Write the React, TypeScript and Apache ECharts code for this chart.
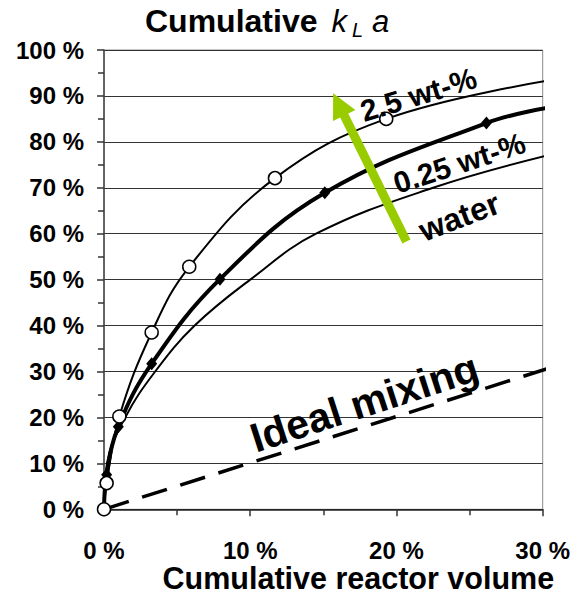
import { useEffect, useRef } from "react";
import * as echarts from "echarts";

const FONT = '"Liberation Sans", Arial, Helvetica, sans-serif';

// Cumulative reactor volume (%) against cumulative kLa (%)
const volume25wt = [0, 0.18, 1.05, 3.26, 5.83, 11.69, 19.3, 30.5];
const kla25wt = [0, 5.7, 20.2, 38.5, 52.8, 72.1, 85.0, 93.4];
const marker25wt = [true, true, true, true, true, true, true, false];

const volume025wt = [0, 0.18, 0.98, 3.26, 7.93, 15.1, 26.15, 30.5];
const kla025wt = [0, 7.5, 18.0, 31.7, 50.1, 68.9, 84.1, 87.5];
const marker025wt = [true, true, true, true, true, true, true, false];

const volumeWater = [0, 0.2, 1.45, 3.5, 6.2, 10, 14.5, 22.5, 30.5];
const klaWater = [0, 10, 20, 30, 40, 50, 60, 70, 77.2];

const volumeIdeal = [0, 30.5];
const klaIdeal = [0, 30.8];

// Curve labels: text, anchor (volume %, kLa %), angle in degrees, font size
const labelTexts = ["2.5 wt-%", "0.25 wt-%", "water", "Ideal mixing"];
const labelAnchors = [
  [21.5, 90.3],
  [24.3, 75.4],
  [24.3, 63.7],
  [17.8, 23.2],
];
const labelAngles = [17, 18, 21, 18];
const labelSizes = [30, 30, 32, 41];

// Arrow from water towards 2.5 wt-% (volume %, kLa %)
const arrowTail = [20.68, 58.3];
const arrowTip = [15.67, 90.6];

function pairs(xs: number[], ys: number[]) {
  return xs.map((x, i) => [x, ys[i]]);
}

export default function App() {
  const ref = useRef<HTMLDivElement>(null);

  useEffect(() => {
    if (!ref.current) return;
    const chart = echarts.init(ref.current, null, { renderer: "svg" });

    const tick = { show: true, length: 7, inside: false, lineStyle: { color: "#333", width: 1.5 } };
    const minor = { show: true, splitNumber: 2, length: 6, lineStyle: { color: "#333", width: 1.5 } };

    chart.setOption({
      animation: false,
      backgroundColor: "#fff",
      title: {
        text: "{b|Cumulative}{k|k}{s|L}{a|a}",
        left: 145,
        top: 2,
        padding: 0,
        textStyle: {
          rich: {
            b: { fontFamily: FONT, fontSize: 32, fontWeight: "bold", color: "#000", lineHeight: 38 },
            k: { fontFamily: FONT, fontSize: 31, fontStyle: "italic", fontWeight: "normal", color: "#000", lineHeight: 38, padding: [0, 0, 0, 14] },
            s: { fontFamily: FONT, fontSize: 20, fontStyle: "italic", fontWeight: "normal", color: "#000", lineHeight: 14, verticalAlign: "bottom", padding: [0, 0, 0, 5] },
            a: { fontFamily: FONT, fontSize: 31, fontStyle: "italic", fontWeight: "normal", color: "#000", lineHeight: 38, padding: [0, 0, 0, 9] },
          },
        },
      },
      grid: {
        left: 104,
        right: 29.3,
        top: 50,
        bottom: 84.7,
        outerBoundsMode: "none",
        containLabel: false,
        show: true,
        borderColor: "#8a8a8a",
        borderWidth: 1,
        backgroundColor: "#fff",
      },
      xAxis: {
        type: "value",
        min: 0,
        max: 30,
        interval: 10,
        name: "Cumulative reactor volume",
        nameLocation: "middle",
        nameGap: 54,
        nameMoveOverlap: false,
        nameTextStyle: {
          fontFamily: FONT,
          fontSize: 30.5,
          fontWeight: "bold",
          color: "#000",
          lineHeight: 30,
          padding: [0, 0, 0, 70],
        },
        axisLine: { show: true, onZero: false, lineStyle: { color: "#222", width: 1.5 } },
        axisTick: tick,
        minorTick: minor,
        splitLine: { show: false },
        axisLabel: {
          margin: 29,
          fontFamily: FONT,
          fontSize: 24,
          lineHeight: 24,
          fontWeight: "bold",
          color: "#000",
          formatter: (v: number) => `${v} %`,
        },
      },
      yAxis: {
        type: "value",
        min: 0,
        max: 100,
        interval: 10,
        axisLine: { show: true, onZero: false, lineStyle: { color: "#444", width: 1.5 } },
        axisTick: tick,
        minorTick: minor,
        splitLine: { show: true, lineStyle: { color: "#333", width: 1 } },
        axisLabel: {
          margin: 20,
          fontFamily: FONT,
          fontSize: 24,
          fontWeight: "bold",
          color: "#000",
          formatter: (v: number) => `${v} %`,
        },
      },
      series: [
        {
          name: "water",
          type: "line",
          smooth: 0.4,
          clip: false,
          symbol: "none",
          lineStyle: { color: "#000", width: 2 },
          data: pairs(volumeWater, klaWater),
          z: 2,
        },
        {
          name: "Ideal mixing",
          type: "line",
          clip: false,
          symbol: "none",
          lineStyle: { color: "#000", width: 3.5, type: [26, 14] },
          data: pairs(volumeIdeal, klaIdeal),
          z: 2,
        },
        {
          name: "0.25 wt-%",
          type: "line",
          smooth: 0.4,
          clip: false,
          symbol: "diamond",
          symbolSize: [11, 13],
          itemStyle: { color: "#000" },
          lineStyle: { color: "#000", width: 4 },
          data: volume025wt.map((x, i) =>
            marker025wt[i] ? [x, kla025wt[i]] : { value: [x, kla025wt[i]], symbol: "none" }
          ),
          z: 3,
        },
        {
          name: "2.5 wt-%",
          type: "line",
          smooth: 0.4,
          clip: false,
          symbol: "circle",
          symbolSize: 13,
          showAllSymbol: true,
          itemStyle: { color: "#fff", borderColor: "#000", borderWidth: 1.5 },
          lineStyle: { color: "#000", width: 2 },
          data: volume25wt.map((x, i) =>
            marker25wt[i] ? [x, kla25wt[i]] : { value: [x, kla25wt[i]], symbol: "none" }
          ),
          z: 4,
        },
      ],
    });

    const px = (p: number[]) => chart.convertToPixel({ gridIndex: 0 }, p) as number[];

    // Arrow polygon built in pixel space from its data anchors
    const [tx, ty] = px(arrowTail);
    const [hx, hy] = px(arrowTip);
    const len = Math.hypot(hx - tx, hy - ty);
    const ux = (hx - tx) / len;
    const uy = (hy - ty) / len;
    const nx = -uy;
    const ny = ux;
    const headLen = 25;
    const headHalf = 12.5;
    const shaftHalf = 4.5;
    const bx = hx - ux * headLen;
    const by = hy - uy * headLen;
    const arrowPoints = [
      [tx + nx * shaftHalf, ty + ny * shaftHalf],
      [bx + nx * shaftHalf, by + ny * shaftHalf],
      [bx + nx * headHalf, by + ny * headHalf],
      [hx, hy],
      [bx - nx * headHalf, by - ny * headHalf],
      [bx - nx * shaftHalf, by - ny * shaftHalf],
      [tx - nx * shaftHalf, ty - ny * shaftHalf],
    ];

    const labels = labelTexts.map((text, i) => {
      const [x, y] = px(labelAnchors[i]);
      return {
        type: "text",
        x,
        y,
        rotation: (labelAngles[i] * Math.PI) / 180,
        z: 10,
        style: {
          text,
          fill: "#000",
          font: `bold ${labelSizes[i]}px ${FONT}`,
          align: "center",
          verticalAlign: "middle",
        },
      };
    });

    chart.setOption({
      graphic: [
        {
          type: "polygon",
          z: 9,
          shape: { points: arrowPoints },
          style: { fill: "#99cc00" },
        },
        ...labels,
      ],
    });

    return () => chart.dispose();
  }, []);

  return (
    <div
      ref={ref}
      style={{ position: "fixed", left: 0, top: 0, width: 572, height: 594 }}
    />
  );
}
